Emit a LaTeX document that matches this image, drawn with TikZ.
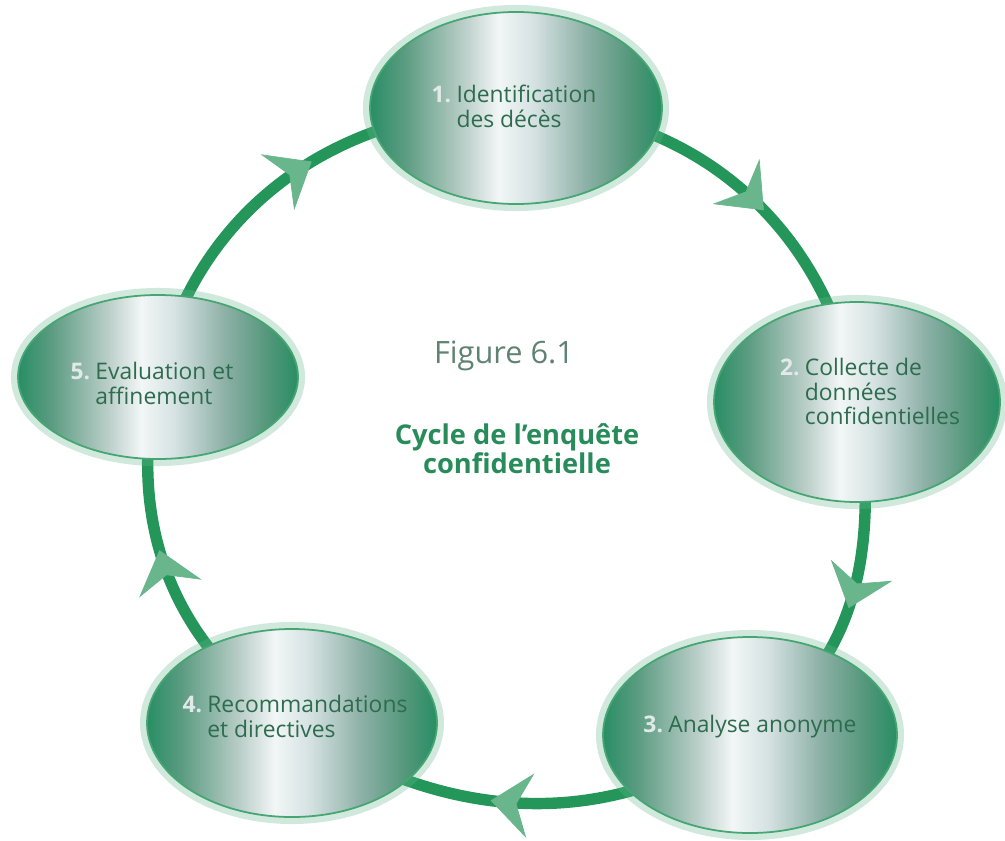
\documentclass[tikz,border=0pt]{standalone}
\usepackage{fontspec}
\setmainfont{Open Sans}
\usepackage{tikz}
\usetikzlibrary{arrows.meta, decorations.markings, shapes.geometric, shadings, backgrounds, positioning}

\definecolor{anneau}{RGB}{36,150,90}
\definecolor{fleche}{RGB}{105,182,140}
\definecolor{texte}{RGB}{45,108,78}
\definecolor{numero}{RGB}{226,233,233}
\definecolor{titre}{RGB}{40,140,90}
\definecolor{figgris}{RGB}{95,130,115}
% couleurs du degrade des ovales
\definecolor{ovA}{RGB}{40,142,100}
\definecolor{ovB}{RGB}{92,156,130}
\definecolor{ovC}{RGB}{186,206,200}
\definecolor{ovD}{RGB}{242,246,246}
\definecolor{ovE}{RGB}{214,226,226}
\definecolor{ovF}{RGB}{140,176,166}
\definecolor{ovG}{RGB}{80,150,120}
\pgfdeclarehorizontalshading{ovale}{100bp}{color(0bp)=(ovA); color(25bp)=(ovA); color(31bp)=(ovB); color(41bp)=(ovC); color(47bp)=(ovD); color(53bp)=(ovE); color(62bp)=(ovF); color(70bp)=(ovG); color(75bp)=(ovA); color(100bp)=(ovA)}

\newcommand{\etape}[1]{\textcolor{numero}{\textbf{#1}}}

\begin{document}
\begin{tikzpicture}[
    oval/.style={ellipse, draw=anneau!85, line width=1pt, shading=ovale, inner sep=0pt,
        preaction={draw=anneau!70, line width=8pt, opacity=0.3}},
    etiq/.style={text=texte, font=\fontsize{13}{13.5}\selectfont, inner sep=0pt},
    boucle/.style={draw=anneau, line width=6.5pt, postaction={decorate},
        decoration={markings, mark=at position 0.56 with {\arrow{Stealth[length=8mm, width=13mm, inset=2.8mm, line width=0.4pt, color=fleche, fill=fleche]}}}}
]
\useasboundingbox (0,0) rectangle (20.1,-16.8); % cadre

% les cinq etapes
\node[oval, minimum width=5.84cm, minimum height=3.84cm] (n1) at (10.32,-2.16) {};
\node[oval, minimum width=5.72cm, minimum height=4.0cm] (n2) at (17.14,-8.04) {};
\node[oval, minimum width=5.88cm, minimum height=3.92cm] (n3) at (15.0,-14.7) {};
\node[oval, minimum width=5.8cm, minimum height=3.76cm] (n4) at (5.84,-14.46) {};
\node[oval, minimum width=5.6cm, minimum height=3.28cm] (n5) at (3.16,-7.54) {};

% textes des etapes
\node[etiq] (t1) at (10.28,-2.2) {\begin{tabular}{@{}l@{\hspace{3pt}}l@{}}\etape{1.} & Identification\\ & des décès\end{tabular}};
\node[etiq] (t2) at (17.4,-7.9) {\begin{tabular}{@{}l@{\hspace{3pt}}l@{}}\etape{2.} & Collecte de\\ & données\\ & confidentielles\end{tabular}};
\node[etiq] (t3) at (15.0,-14.54) {\begin{tabular}{@{}l@{\hspace{3pt}}l@{}}\etape{3.} & Analyse anonyme\end{tabular}};
\node[etiq] (t4) at (5.9,-14.4) {\begin{tabular}{@{}l@{\hspace{3pt}}l@{}}\etape{4.} & Recommandations\\ & et directives\end{tabular}};
\node[etiq] (t5) at (3.04,-7.74) {\begin{tabular}{@{}l@{\hspace{3pt}}l@{}}\etape{5.} & Evaluation et\\ & affinement\end{tabular}};

% titre au centre
\node[text=figgris, font=\fontsize{17.5}{19}\selectfont] (fig) at (10.08,-7.12) {Figure 6.1};
\node[text=titre, font=\bfseries\fontsize{15.5}{15}\selectfont, align=center] (titre) at (10.34,-8.98) {Cycle de l'enquête\\confidentielle};

% l'anneau du cycle, sous les ovales
\begin{scope}[on background layer]
    \draw[boucle] (n1.center) to[out=0, in=99] (n2.center);
    \draw[boucle] (n2.center) to[out=-81, in=34] (n3.center);
    \draw[boucle] (n3.center) to[out=214, in=327] (n4.center);
    \draw[boucle] (n4.center) to[out=147, in=257] (n5.center);
    \draw[boucle] (n5.center) to[out=77, in=180] (n1.center);
\end{scope}
\end{tikzpicture}
\end{document}
